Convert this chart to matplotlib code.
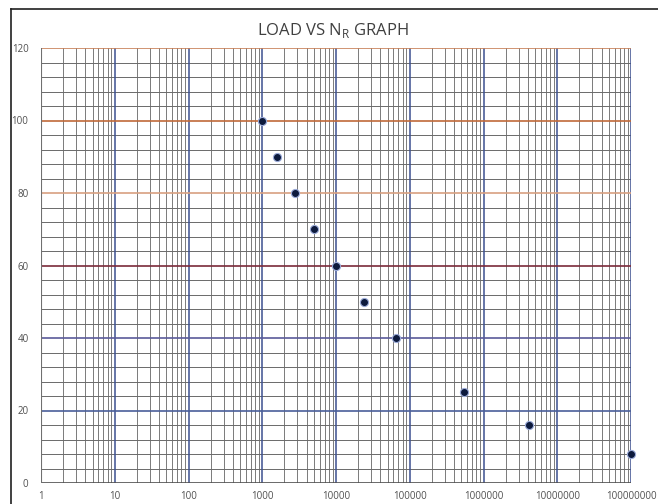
import numpy as np
import matplotlib
matplotlib.use("Agg")
import matplotlib.pyplot as plt
from matplotlib.lines import Line2D
from matplotlib.ticker import FixedLocator, NullFormatter

# data
cycles = [1000, 1600, 2800, 5000, 10000, 24000, 65000, 550000, 4200000, 100000000]
load = [100, 90, 80, 70, 60, 50, 40, 25, 16, 8]

y_major = [0, 20, 40, 60, 80, 100, 120]
y_major_colors = ["#505050", "#4a5f9a", "#5a5a9a", "#7a2a3a", "#d8a080", "#c06a3a", "#c8825a"]
x_decades = [10 ** k for k in range(0, 9)]
x_labels = [str(v) for v in x_decades]

plt.rcParams['font.family'] = ['Open Sans', 'DejaVu Sans']

fig = plt.figure(figsize=(6.58, 5.04), dpi=100)
ax = fig.add_axes([41 / 658, 21 / 504, 590 / 658, 435 / 504])

ax.set_xscale("log")
ax.set_xlim(1, 1e8)
ax.set_ylim(0, 120)

# minor grid (vertical 2..9 each decade, horizontal every 4)
minor_x = [m * d for d in x_decades[:-1] for m in range(2, 10)]
for xv in minor_x:
    ax.axvline(xv, color="#7a7a7a", lw=0.7, zorder=1)
for yv in np.arange(4, 120, 4):
    if yv % 20:
        ax.axhline(yv, color="#6a6a6a", lw=0.7, zorder=1)

# major grid
for xv in x_decades[1:]:
    ax.axvline(xv, color="#3c5090", lw=1.1, zorder=2)
for yv, c in zip(y_major, y_major_colors):
    ax.axhline(yv, color=c, lw=1.2, zorder=2)

ax.scatter(cycles, load, s=34, color="#0d1a3d", edgecolors="#9aaad8",
           linewidths=0.8, zorder=5, clip_on=False)

for s in ax.spines.values():
    s.set_visible(False)
ax.axvline(1, color="#707070", lw=0.8, zorder=2)

ax.xaxis.set_major_locator(FixedLocator(x_decades))
ax.set_xticklabels(x_labels)
ax.xaxis.set_minor_formatter(NullFormatter())
ax.set_yticks(y_major)
ax.tick_params(which="both", length=0, labelsize=7, colors="#505050")
ax.tick_params(axis="x", pad=6)
ax.tick_params(axis="y", pad=9)

fig.text(0.506, 0.94, "LOAD VS N$_\\mathregular{R}$ GRAPH", ha="center", va="center",
         fontsize=12, color="#404040")

# outer frame
fig.add_artist(Line2D([11 / 658, 11 / 658], [0, 1 - 9 / 504], color="#202020", lw=1.2))
fig.add_artist(Line2D([11 / 658, 1], [1 - 9 / 504, 1 - 9 / 504], color="#202020", lw=1.2))

fig.savefig("out.png", dpi=100)
